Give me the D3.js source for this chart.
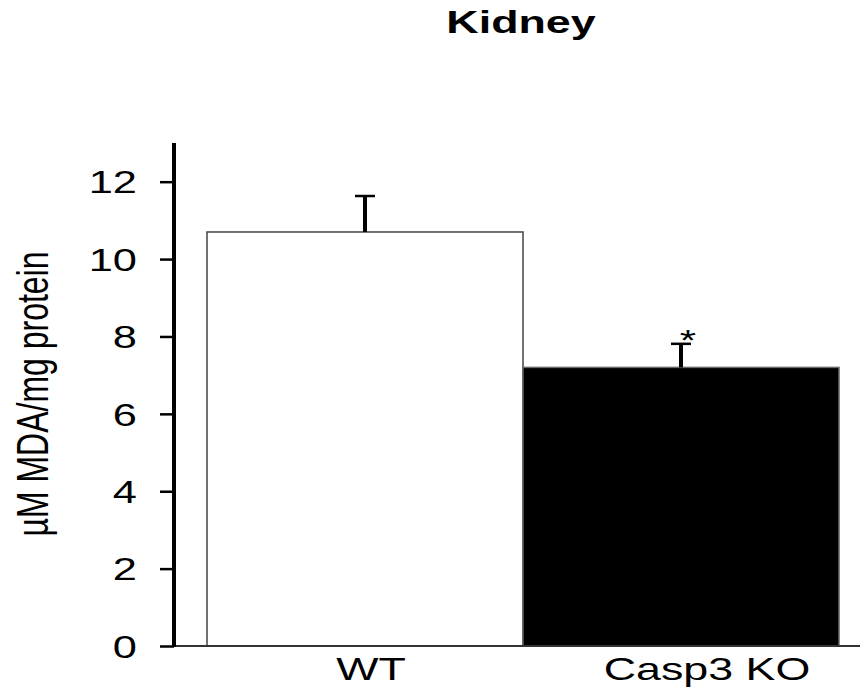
<!DOCTYPE html>
<html>
<head>
<meta charset="utf-8">
<script src="https://cdn.jsdelivr.net/npm/d3@7"></script>
<style>
	body{margin:0;background:#fff;}
	text{font-family:"Liberation Sans",Arial,sans-serif;fill:#000;}
</style>
</head>
<body>
<div id="chart"></div>
<script>

var groups = ["WT","Casp3 KO"]
var means = [10.7, 7.2]
var errors = [0.93, 0.61]
var yTicks = [0,2,4,6,8,10,12]
var signif = ["","*"]

var width = 860,
	height = 694;

var stretch = 1.4; // the original figure is squeezed wide, text too

var xScale = d3.scaleBand()
				.domain(groups)
				.range([207,839])
				.padding(0)

var yScale = d3.scaleLinear()
				.domain([0,13])
				.range([646,143])

var svg = d3.select("#chart").append("svg")
			.attr("width",width)
			.attr("height",height)

// title
svg.append("text")
	.attr("transform","translate(521,33) scale(" + stretch + ",1)")
	.attr("text-anchor","middle")
	.attr("font-size",32)
	.attr("font-weight","bold")
	.text("Kidney")

// y label
svg.append("text")
	.attr("transform","translate(48,394) scale(" + stretch + ",1) rotate(-90)")
	.attr("text-anchor","middle")
	.attr("font-size",32)
	.text("\u00b5M MDA/mg protein")

// bars
svg.selectAll("rect.bar")
	.data(groups).enter()
	.append("rect")
	.attr("class","bar")
	.attr("x",function(d){return xScale(d)})
	.attr("width",xScale.bandwidth())
	.attr("y",function(d,i){return yScale(means[i])})
	.attr("height",function(d,i){return yScale(0) - yScale(means[i])})
	.attr("fill",function(d,i){return i==0 ? "#fff" : "#000"})
	.attr("stroke",function(d,i){return i==0 ? "#444" : "#666"})
	.attr("stroke-width",1.5)

// error bars (upper only)
svg.selectAll("line.err")
	.data(groups).enter()
	.append("line")
	.attr("class","err")
	.attr("x1",function(d){return xScale(d) + xScale.bandwidth()/2})
	.attr("x2",function(d){return xScale(d) + xScale.bandwidth()/2})
	.attr("y1",function(d,i){return yScale(means[i])})
	.attr("y2",function(d,i){return yScale(means[i] + errors[i])})
	.attr("stroke","#000")
	.attr("stroke-width",4)

svg.selectAll("line.cap")
	.data(groups).enter()
	.append("line")
	.attr("class","cap")
	.attr("x1",function(d){return xScale(d) + xScale.bandwidth()/2 - 10})
	.attr("x2",function(d){return xScale(d) + xScale.bandwidth()/2 + 10})
	.attr("y1",function(d,i){return yScale(means[i] + errors[i])})
	.attr("y2",function(d,i){return yScale(means[i] + errors[i])})
	.attr("stroke","#000")
	.attr("stroke-width",2.5)

// significance marks
svg.selectAll("text.sig")
	.data(groups).enter()
	.append("text")
	.attr("class","sig")
	.attr("transform",function(d,i){
		var x = xScale(d) + xScale.bandwidth()/2 + 7
		var y = yScale(means[i] + errors[i]) + 6
		return "translate(" + x + "," + y + ") scale(" + stretch + ",1)"
	})
	.attr("text-anchor","middle")
	.attr("font-size",30)
	.text(function(d,i){return signif[i]})

// x axis baseline
svg.append("line")
	.attr("x1",174)
	.attr("x2",width)
	.attr("y1",yScale(0))
	.attr("y2",yScale(0))
	.attr("stroke","#333")
	.attr("stroke-width",2)

// x labels
svg.selectAll("text.xlab")
	.data(groups).enter()
	.append("text")
	.attr("class","xlab")
	.attr("transform",function(d,i){
		var x = xScale(d) + xScale.bandwidth()/2 + (i==0 ? 6 : 26)
		return "translate(" + x + ",680) scale(" + stretch + ",1)"
	})
	.attr("text-anchor","middle")
	.attr("font-size",32)
	.text(function(d){return d})

// y axis
var yAxis = d3.axisLeft(yScale)
				.tickValues(yTicks)
				.tickSize(14)
				.tickPadding(0)
				.tickFormat(d3.format("d"))

var gy = svg.append("g")
			.attr("transform","translate(174,0)")
			.call(yAxis)

gy.select(".domain").remove()
gy.selectAll(".tick line")
	.attr("stroke","#000")
	.attr("stroke-width",2.5)
gy.selectAll(".tick text").remove()

gy.selectAll(".tick").append("text")
	.attr("transform","translate(-37,0) scale(" + stretch + ",1)")
	.attr("dy","0.36em")
	.attr("text-anchor","end")
	.attr("font-size",31)
	.attr("fill","#000")
	.attr("font-family","Liberation Sans,Arial,sans-serif")
	.text(function(d){return d})

svg.append("line")
	.attr("x1",174)
	.attr("x2",174)
	.attr("y1",yScale(13))
	.attr("y2",yScale(0) + 1)
	.attr("stroke","#000")
	.attr("stroke-width",4)

</script>
</body>
</html>
